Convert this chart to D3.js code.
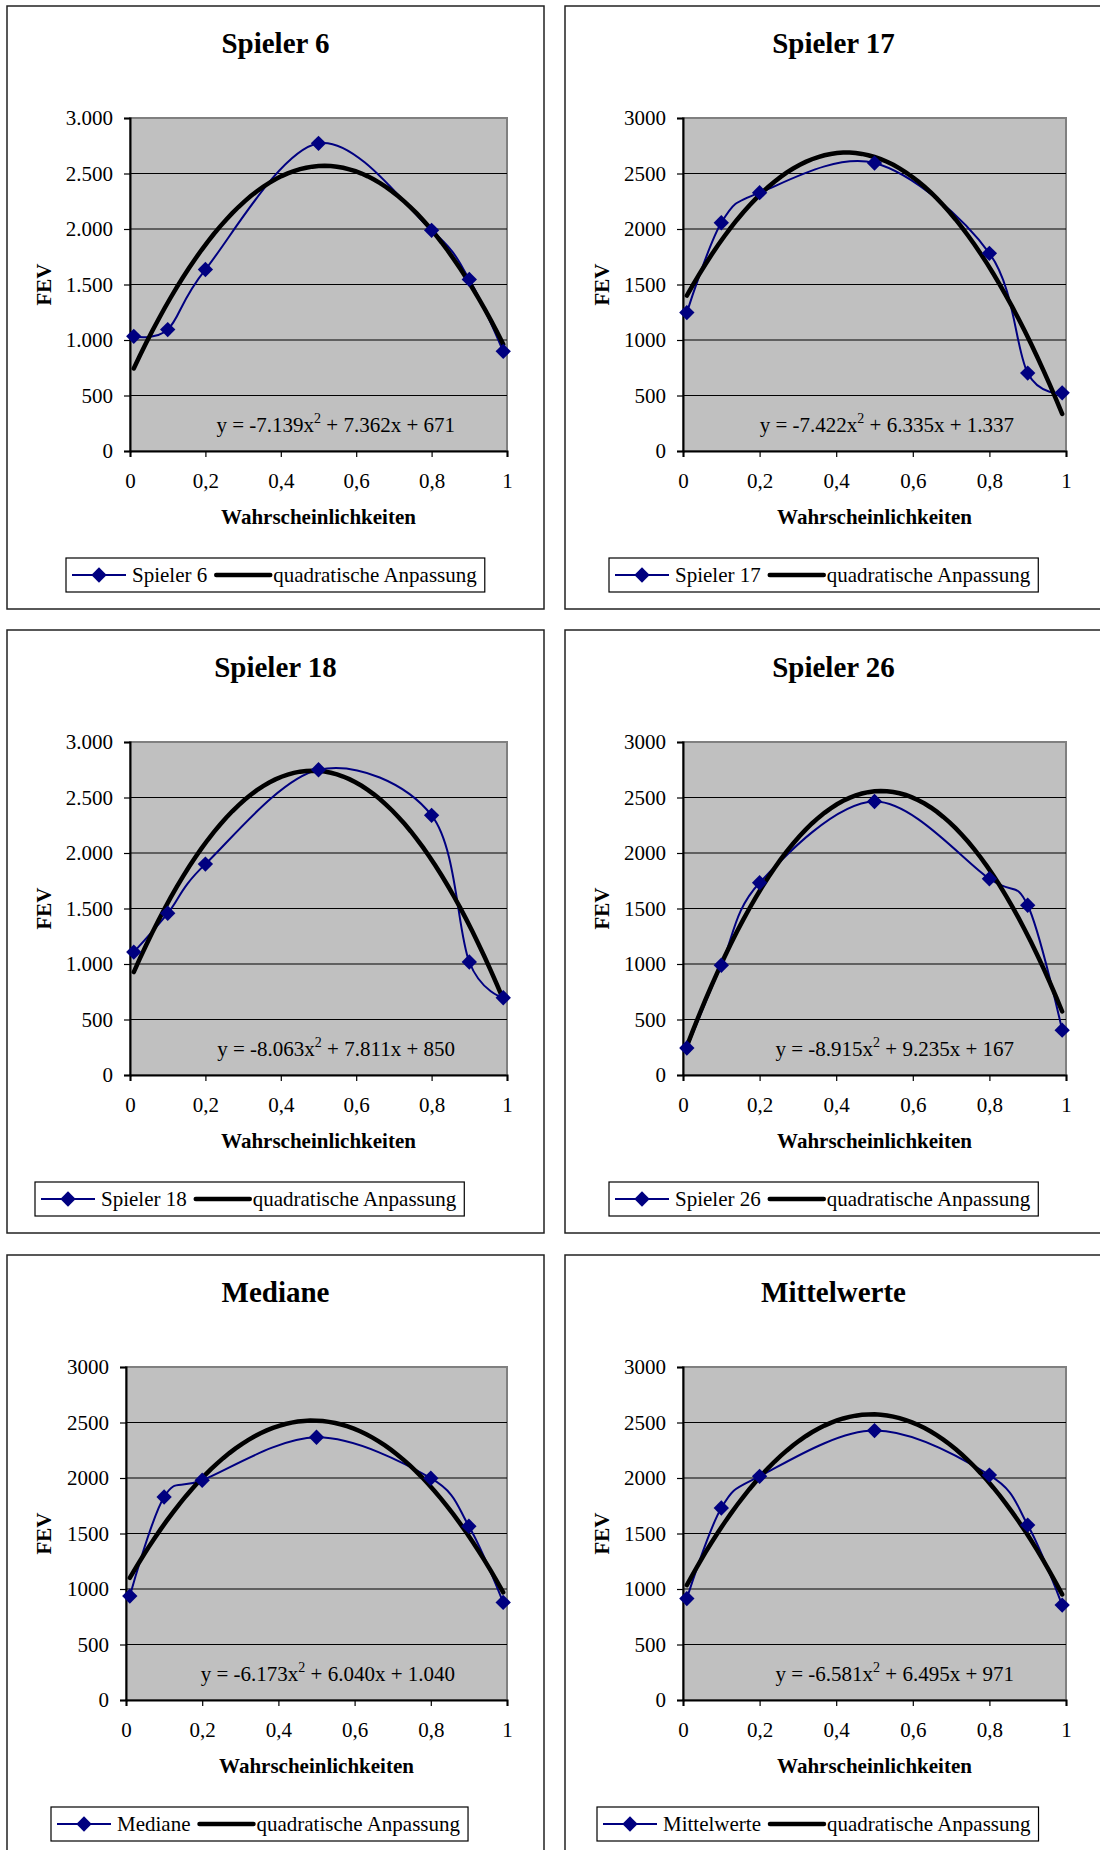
<!DOCTYPE html>
<html>
<head>
<meta charset="utf-8">
<script src="https://cdn.jsdelivr.net/npm/d3@7"></script>
<style>
    body { margin: 0; background: #fff; }
    svg { display: block; }
    text { font-family: "Liberation Serif", "Times New Roman", serif; fill: #000; }
</style>
</head>
<body>
<div id="chart-area"></div>
<script>

// data
const probabilities = [0.01, 0.1, 0.2, 0.5, 0.8, 0.9, 0.99]
const titles = ["Spieler 6", "Spieler 17", "Spieler 18", "Spieler 26", "Mediane", "Mittelwerte"]

const fevSpieler6 = [1033, 1094, 1635, 2772, 1988, 1546, 898]
const fevSpieler17 = [1247, 2056, 2327, 2594, 1781, 702, 524]
const fevSpieler18 = [1107, 1457, 1900, 2750, 2339, 1018, 696]
const fevSpieler26 = [243, 989, 1732, 2464, 1768, 1529, 404]
const fevMediane = [936, 1829, 1980, 2367, 1998, 1565, 879]
const fevMittelwerte = [914, 1730, 2015, 2427, 2026, 1576, 855]
const series = [fevSpieler6, fevSpieler17, fevSpieler18, fevSpieler26, fevMediane, fevMittelwerte]

// quadratic trend lines: y = a*x^2 + b*x + c
const fitA = [-7139, -7422, -8063, -8915, -6173, -6581]
const fitB = [7362, 6335, 7811, 9235, 6040, 6495]
const fitC = [671, 1337, 850, 167, 1040, 971]

const yTicks = [0, 500, 1000, 1500, 2000, 2500, 3000]
const xTicks = [0, 0.2, 0.4, 0.6, 0.8, 1]
const dottedThousands = [true, false, true, false, false, false]

const fitLabel = "quadratische Anpassung"
const xLabel = "Wahrscheinlichkeiten"
const yLabel = "FEV"

// layout
const totalWidth = 1100
const totalHeight = 1850
const FRAME = {W: 537, H: 603}
const frameX = [7, 565, 7, 565, 7, 565]
const frameY = [6, 6, 630, 630, 1255, 1255]
const plotLeft = [123, 118, 123, 118, 119, 118]
const plotRight = [500, 501, 500, 501, 500, 501]
const PLOT_TOP = 112
const PLOT_BOTTOM = 445
const legendLeft = [59, 44, 28, 44, 44, 32]
const LEGEND_TOP = 552
const LEGEND_H = 34

const NAVY = "#000080"

const de = d3.formatLocale({decimal: ",", thousands: ".", grouping: [3], currency: ["", " €"], minus: "-"})
const fmtDot = de.format(",d")
const fmtPlain = de.format("d")
const fmtX = de.format("~g")

const svg = d3.select("#chart-area")
    .append("svg")
    .attr("width", totalWidth)
    .attr("height", totalHeight)

const diamond = d3.symbol().type(d3.symbolDiamond2).size(150)

titles.forEach((title, i) => {
    const frame = svg.append("g")
        .attr("transform", `translate(${frameX[i]}, ${frameY[i]})`)

    frame.append("rect")
        .attr("width", FRAME.W)
        .attr("height", FRAME.H)
        .attr("fill", "#fff")
        .attr("stroke", "#222")
        .attr("stroke-width", 1.5)

    frame.append("text")
        .attr("x", FRAME.W / 2)
        .attr("y", 47)
        .attr("text-anchor", "middle")
        .attr("font-size", "29px")
        .attr("font-weight", "bold")
        .text(title)

    const WIDTH = plotRight[i] - plotLeft[i]
    const HEIGHT = PLOT_BOTTOM - PLOT_TOP

    const g = frame.append("g")
        .attr("transform", `translate(${plotLeft[i]}, ${PLOT_TOP})`)

    const xScale = d3.scaleLinear().domain([0, 1]).range([0, WIDTH])
    const yScale = d3.scaleLinear().domain([0, 3000]).range([HEIGHT, 0])

    g.append("rect")
        .attr("width", WIDTH)
        .attr("height", HEIGHT)
        .attr("fill", "#c0c0c0")
        .attr("stroke", "#808080")
        .attr("stroke-width", 2)

    // grid lines
    g.selectAll(".grid")
        .data(yTicks.filter(t => t > 0 && t < 3000))
        .enter().append("line")
        .attr("x1", 0)
        .attr("x2", WIDTH)
        .attr("y1", d => yScale(d))
        .attr("y2", d => yScale(d))
        .attr("stroke", "#000")
        .attr("stroke-width", 1)

    const yFmt = dottedThousands[i] ? fmtDot : fmtPlain
    const yAxis = g.append("g")
        .call(d3.axisLeft(yScale).tickValues(yTicks).tickFormat(yFmt).tickSizeOuter(0).tickSize(6).tickPadding(11))
    const xAxis = g.append("g")
        .attr("transform", `translate(0, ${HEIGHT})`)
        .call(d3.axisBottom(xScale).tickValues(xTicks).tickFormat(fmtX).tickSizeOuter(0).tickSize(6).tickPadding(16))

    ;[yAxis, xAxis].forEach(ax => {
        ax.selectAll("text")
            .attr("font-size", "21px")
            .attr("font-family", '"Liberation Serif", serif')
            .attr("fill", "#000")
        ax.selectAll("line").attr("stroke", "#000").attr("stroke-width", 1.2)
        ax.select(".domain").attr("stroke", "#000").attr("stroke-width", 2)
    })

    // equation of the fit
    const eq = g.append("text")
        .attr("x", WIDTH - 52)
        .attr("y", HEIGHT - 19)
        .attr("text-anchor", "end")
        .attr("font-size", "21px")
        .attr("fill", "#111")
    eq.append("tspan").text(`y = ${fmtDot(fitA[i])}x`)
    eq.append("tspan").attr("dy", -9).attr("font-size", "14px").text("2")
    eq.append("tspan").attr("dy", 9).text(` + ${fmtDot(fitB[i])}x + ${fmtDot(fitC[i])}`)

    const points = probabilities.map((p, j) => ({x: p, y: series[i][j]}))

    // trend line from the coefficients
    const x0 = probabilities[0]
    const x1 = probabilities[probabilities.length - 1]
    const trend = d3.range(0, 61).map(k => {
        const x = x0 + (x1 - x0) * k / 60
        return {x: x, y: fitA[i] * x * x + fitB[i] * x + fitC[i]}
    })

    const line = d3.line()
        .x(d => xScale(d.x))
        .y(d => yScale(d.y))

    g.append("path")
        .attr("d", line.curve(d3.curveCatmullRom.alpha(0))(points))
        .attr("fill", "none")
        .attr("stroke", NAVY)
        .attr("stroke-width", 2)

    g.append("path")
        .attr("d", line.curve(d3.curveLinear)(trend))
        .attr("fill", "none")
        .attr("stroke", "#000")
        .attr("stroke-width", 4.5)
        .attr("stroke-linecap", "round")

    g.selectAll(".marker")
        .data(points)
        .enter().append("path")
        .attr("d", diamond)
        .attr("transform", d => `translate(${xScale(d.x)}, ${yScale(d.y)})`)
        .attr("fill", NAVY)

    frame.append("text")
        .attr("x", plotLeft[i] + WIDTH / 2)
        .attr("y", PLOT_BOTTOM + 73)
        .attr("text-anchor", "middle")
        .attr("font-size", "21px")
        .attr("font-weight", "bold")
        .text(xLabel)

    frame.append("text")
        .attr("transform", `translate(44, ${PLOT_TOP + HEIGHT / 2}) rotate(-90)`)
        .attr("text-anchor", "middle")
        .attr("font-size", "21px")
        .attr("font-weight", "bold")
        .text(yLabel)

    // legend
    const legend = frame.append("g")
        .attr("transform", `translate(${legendLeft[i]}, ${LEGEND_TOP})`)
    const box = legend.append("rect")
        .attr("height", LEGEND_H)
        .attr("fill", "#fff")
        .attr("stroke", "#000")
        .attr("stroke-width", 1.2)
    const mid = LEGEND_H / 2

    legend.append("line")
        .attr("x1", 6).attr("x2", 60)
        .attr("y1", mid).attr("y2", mid)
        .attr("stroke", NAVY).attr("stroke-width", 2)
    legend.append("path")
        .attr("d", diamond)
        .attr("transform", `translate(33, ${mid})`)
        .attr("fill", NAVY)
    const t1 = legend.append("text")
        .attr("x", 66).attr("y", mid + 7)
        .attr("font-size", "21px")
        .text(title)
    const end1 = 66 + t1.node().getComputedTextLength()
    legend.append("line")
        .attr("x1", end1 + 9).attr("x2", end1 + 63)
        .attr("y1", mid).attr("y2", mid)
        .attr("stroke", "#000").attr("stroke-width", 4.5)
        .attr("stroke-linecap", "round")
    const t2 = legend.append("text")
        .attr("x", end1 + 66).attr("y", mid + 7)
        .attr("font-size", "21px")
        .text(fitLabel)
    box.attr("width", end1 + 66 + t2.node().getComputedTextLength() + 8)
})

</script>
</body>
</html>
